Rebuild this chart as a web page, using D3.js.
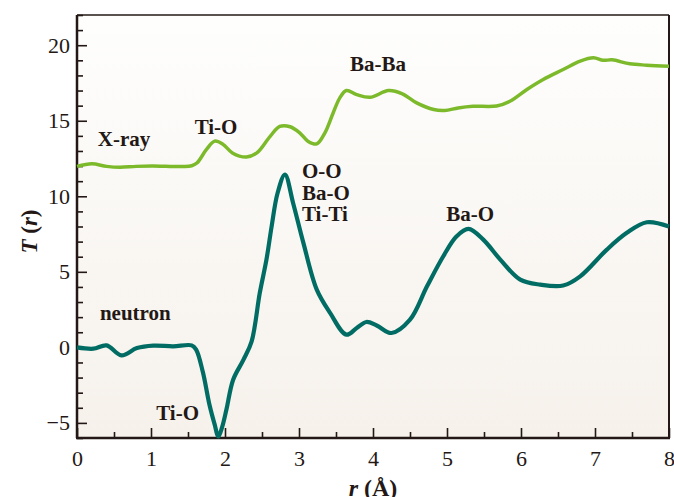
<!DOCTYPE html>
<html>
<head>
<meta charset="utf-8">
<script src="https://cdn.jsdelivr.net/npm/d3@7"></script>
<style>
  html, body { margin: 0; padding: 0; background: #fff; }
  svg { display: block; font-family: "Liberation Serif", "Times New Roman", serif; }
</style>
</head>
<body>
<div id="chart"></div>
<script>
// r (Å) and T(r)
const xrayR = [0, 0.2, 0.4, 0.58, 0.8, 1.03, 1.2, 1.43, 1.55, 1.62, 1.75, 1.86, 1.97, 2.1, 2.29, 2.43, 2.61, 2.74, 2.88, 3.01, 3.12, 3.24, 3.35, 3.46, 3.55, 3.64, 3.78, 3.96, 4.21, 4.39, 4.59, 4.82, 4.97, 5.15, 5.35, 5.67, 5.85, 6.08, 6.3, 6.57, 6.8, 6.98, 7.11, 7.23, 7.47, 7.7, 8];
const xrayT = [11.98, 12.15, 11.98, 11.92, 11.98, 12.0, 11.98, 11.97, 12.02, 12.2, 13.1, 13.65, 13.45, 12.87, 12.6, 12.87, 13.97, 14.62, 14.6, 14.2, 13.65, 13.47, 14.2, 15.5, 16.5, 17.0, 16.73, 16.55, 17.0, 16.8, 16.18, 15.74, 15.68, 15.85, 15.96, 15.98, 16.29, 17.07, 17.73, 18.39, 18.95, 19.17, 19.0, 19.03, 18.77, 18.68, 18.6];

const neutronR = [0, 0.22, 0.4, 0.6, 0.81, 1.03, 1.3, 1.55, 1.61, 1.7, 1.79, 1.86, 1.91, 1.96, 2.02, 2.11, 2.25, 2.36, 2.47, 2.56, 2.63, 2.71, 2.81, 2.92, 3.06, 3.24, 3.42, 3.64, 3.78, 3.91, 4.05, 4.25, 4.5, 4.73, 4.95, 5.13, 5.29, 5.49, 5.72, 5.99, 6.26, 6.57, 6.8, 7.16, 7.43, 7.7, 8];
const neutronT = [0, -0.09, 0.13, -0.53, -0.05, 0.11, 0.07, 0.13, -0.15, -1.62, -3.8, -5.1, -5.9, -5.3, -4.1, -2.14, -0.81, 0.4, 3.6, 5.8, 8.0, 10.2, 11.44, 9.56, 6.9, 3.82, 2.28, 0.84, 1.28, 1.68, 1.45, 0.95, 1.83, 4.04, 6.03, 7.35, 7.84, 7.13, 5.81, 4.48, 4.15, 4.09, 4.7, 6.47, 7.58, 8.28, 8.0];

const xTicks = [0, 1, 2, 3, 4, 5, 6, 7, 8];
const yTicks = [-5, 0, 5, 10, 15, 20];

// annotation text with anchor in data units (r, T)
const labelText = ['X-ray', 'Ti-O', 'Ba-Ba', 'O-O', 'Ba-O', 'Ti-Ti', 'Ba-O', 'neutron', 'Ti-O'];
const labelR = [0.28, 1.59, 3.69, 3.04, 3.04, 3.04, 4.99, 0.31, 1.07];
const labelT = [13.3, 14.15, 18.28, 11.22, 9.78, 8.34, 8.34, 1.83, -4.79];

const width = 674, height = 497;
const margin = {top: 15, right: 5, bottom: 59, left: 77};
const w = width - margin.left - margin.right;
const h = height - margin.top - margin.bottom;
const ink = '#231815';

const x = d3.scaleLinear().domain([0, 8]).range([0, w]);
const y = d3.scaleLinear().domain([-6, 22]).range([h, 0]);

const svg = d3.select('#chart').append('svg')
  .attr('width', width)
  .attr('height', height);

const grad = svg.append('defs').append('linearGradient')
  .attr('id', 'bg').attr('x1', 0).attr('y1', 0).attr('x2', 0).attr('y2', 1);
grad.append('stop').attr('offset', '0%').attr('stop-color', '#fefefd');
grad.append('stop').attr('offset', '100%').attr('stop-color', '#f6f1eb');

const g = svg.append('g')
  .attr('transform', `translate(${margin.left},${margin.top})`);

g.append('rect')
  .attr('width', w).attr('height', h)
  .attr('fill', 'url(#bg)');

// frame on top and right
g.append('line').attr('x1', 0).attr('x2', w).attr('y1', 0).attr('y2', 0)
  .attr('stroke', ink).attr('stroke-width', 1.5);
g.append('line').attr('x1', w).attr('x2', w).attr('y1', 0).attr('y2', h)
  .attr('stroke', ink).attr('stroke-width', 2);

// minor ticks (inward)
const xMinor = g.append('g').attr('transform', `translate(0,${h})`)
  .call(d3.axisTop(x).tickValues(d3.range(0.5, 8, 1)).tickSize(6).tickFormat(''));
const yMinor = g.append('g')
  .call(d3.axisRight(y).tickValues(d3.range(-6, 23, 1).filter(v => v % 5 !== 0)).tickSize(6).tickFormat(''));

// major ticks (inward) + labels
const xAxis = g.append('g').attr('transform', `translate(0,${h})`)
  .call(d3.axisBottom(x).tickValues(xTicks).tickSize(0).tickPadding(24));
const xMajor = g.append('g').attr('transform', `translate(0,${h})`)
  .call(d3.axisTop(x).tickValues(xTicks).tickSize(10).tickFormat(''));
const yAxis = g.append('g')
  .call(d3.axisLeft(y).tickValues(yTicks).tickSize(0).tickPadding(7));
const yMajor = g.append('g')
  .call(d3.axisRight(y).tickValues(yTicks).tickSize(10).tickFormat(''));

[xMinor, yMinor, xMajor, yMajor, xAxis, yAxis].forEach(a => {
  a.select('.domain').remove();
  a.selectAll('line').attr('stroke', ink).attr('stroke-width', 1.6);
});
[xAxis, yAxis].forEach(a => {
  a.selectAll('text')
    .attr('fill', ink)
    .style('font-size', '22px')
    .style('font-family', '"Liberation Serif", serif');
});
xAxis.selectAll('text').attr('dy', '0.2em');

// left and bottom axis lines
g.append('line').attr('x1', 0).attr('x2', 0).attr('y1', 0).attr('y2', h)
  .attr('stroke', ink).attr('stroke-width', 2.5);
g.append('line').attr('x1', -1).attr('x2', w + 1).attr('y1', h).attr('y2', h)
  .attr('stroke', ink).attr('stroke-width', 2.5);

const line = d3.line()
  .x(d => x(d[0]))
  .y(d => y(d[1]))
  .curve(d3.curveCatmullRom.alpha(0.5));

g.append('path')
  .datum(xrayR.map((r, i) => [r, xrayT[i]]))
  .attr('fill', 'none')
  .attr('stroke', '#7cba2b')
  .attr('stroke-width', 3.5)
  .attr('stroke-linejoin', 'round')
  .attr('d', line);

g.append('path')
  .datum(neutronR.map((r, i) => [r, neutronT[i]]))
  .attr('fill', 'none')
  .attr('stroke', '#006c64')
  .attr('stroke-width', 4.2)
  .attr('stroke-linejoin', 'round')
  .attr('d', line);

g.selectAll('.label')
  .data(labelText)
  .enter()
  .append('text')
  .attr('class', 'label')
  .attr('x', (d, i) => x(labelR[i]))
  .attr('y', (d, i) => y(labelT[i]))
  .attr('fill', ink)
  .style('font-size', '21px')
  .style('font-weight', 'bold')
  .text(d => d);

// axis titles
const yTitle = svg.append('text')
  .attr('transform', `translate(37,${margin.top + h / 2 + 5}) rotate(-90)`)
  .attr('text-anchor', 'middle')
  .attr('fill', ink)
  .style('font-size', '23px')
  .style('font-weight', 'bold');
yTitle.append('tspan').style('font-style', 'italic').text('T');
yTitle.append('tspan').text(' (');
yTitle.append('tspan').style('font-style', 'italic').text('r');
yTitle.append('tspan').text(')');

const xTitle = svg.append('text')
  .attr('x', margin.left + w / 2)
  .attr('y', 496)
  .attr('text-anchor', 'middle')
  .attr('fill', ink)
  .style('font-size', '24px')
  .style('font-weight', 'bold');
xTitle.append('tspan').style('font-style', 'italic').text('r');
xTitle.append('tspan').text(' (Å)');
</script>
</body>
</html>
